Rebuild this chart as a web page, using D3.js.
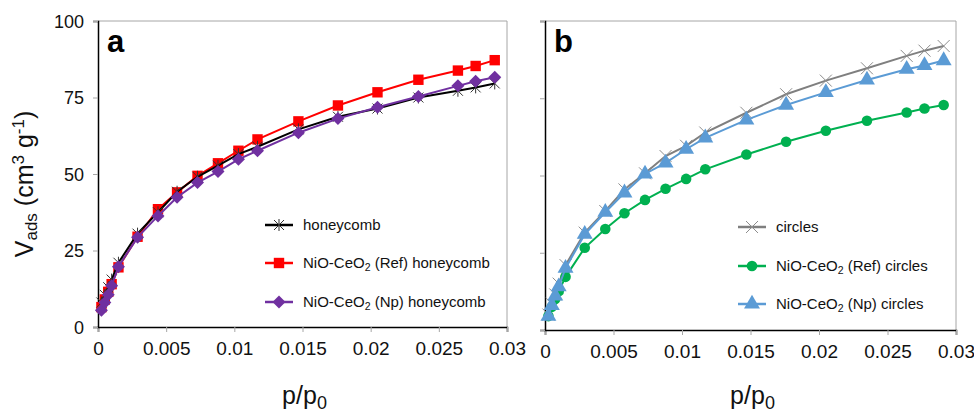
<!DOCTYPE html>
<html>
<head>
<meta charset="utf-8">
<script src="https://cdn.jsdelivr.net/npm/d3@7"></script>
<style>
  html, body { margin: 0; padding: 0; background: #fff; }
  svg { display: block; font-family: "Liberation Sans", Arial, sans-serif; }
</style>
</head>
<body>
<div id="chart"></div>
<script>
// Data
const pRel = [0.00025, 0.0005, 0.00075, 0.001, 0.0015, 0.0029, 0.0044, 0.0058, 0.0073, 0.0088,
  0.0103, 0.0117, 0.0147, 0.0176, 0.0205, 0.0235, 0.0264, 0.0277, 0.0291];

const honeycomb = [8, 10.5, 13, 15.5, 21, 30.5, 37.5, 44.2, 49.1, 52.7, 56.5, 58.9, 64.6, 68.7, 71.4, 75.0, 77.2, 78.3, 79.6];
const refHoneycomb = [6.5, 9, 11.5, 14, 19.5, 29.5, 38.5, 44, 49.4, 53.5, 57.6, 61.3, 67.2, 72.4, 76.7, 80.8, 83.8, 85.3, 87.2];
const npHoneycomb = [5.5, 8, 10.5, 13.5, 19.7, 29.3, 36.3, 42.4, 47.2, 50.8, 54.8, 57.6, 63.5, 68.1, 71.8, 75.3, 78.8, 80.3, 81.6];

const circles = [5, 8.5, 11.5, 15, 21, 31.5, 38.5, 45.5, 50.7, 56.3, 59.6, 63.9, 70.3, 76.3, 80.7, 84.7, 88.7, 90.4, 91.9];
const refCircles = [4.5, 7.5, 10, 12.5, 17.2, 26.6, 32.7, 37.8, 42.1, 45.7, 48.9, 52.0, 56.8, 60.9, 64.5, 67.7, 70.4, 71.7, 72.8];
const npCircles = [4.5, 8, 11, 14, 20, 31, 38.1, 44.4, 50.5, 54.1, 58.5, 62.2, 68.0, 72.8, 76.9, 80.9, 84.4, 85.6, 87.2];

const xTicks = [0, 0.005, 0.01, 0.015, 0.02, 0.025, 0.03];
const xTickLabels = ["0", "0.005", "0.01", "0.015", "0.02", "0.025", "0.03"];
const yTicks = [0, 25, 50, 75, 100];

const W = 974, H = 412;
const svg = d3.select("#chart").append("svg").attr("width", W).attr("height", H);

// marker shapes
const markerPath = {
  asterisk: (r) => `M${-r},${-r}L${r},${r}M${-r},${r}L${r},${-r}M0,${-r * 1.2}L0,${r * 1.2}`,
  cross: (r) => `M${-r},${-r}L${r},${r}M${-r},${r}L${r},${-r}`,
  square: (r) => d3.symbol(d3.symbolSquare, (2 * r) * (2 * r))(),
  diamond: (r) => `M0,${-r}L${r},0L0,${r}L${-r},0Z`,
  circle: (r) => d3.symbol(d3.symbolCircle, Math.PI * r * r)(),
  triangle: (r) => d3.symbol(d3.symbolTriangle, r * r * 2.6)()
};

const panels = [
  {
    letter: "a", x0: 98, x1: 507, y0: 327, y1: 21, yLabels: true,
    legend: { x: 265, ys: [225, 263, 302] },
    series: [
      { name: "NiO-CeO|2| (Ref) honeycomb", values: refHoneycomb, color: "#ff0000", marker: "square", r: 5.2, filled: true, legendRow: 1 },
      { name: "honeycomb", values: honeycomb, color: "#000000", mcolor: "#333333", marker: "asterisk", r: 5, filled: false, legendRow: 0 },
      { name: "NiO-CeO|2| (Np) honeycomb", values: npHoneycomb, color: "#7030a0", marker: "diamond", r: 6.5, filled: true, legendRow: 2 }
    ]
  },
  {
    letter: "b", x0: 545, x1: 956, y0: 330, y1: 21, yLabels: false,
    legend: { x: 738, ys: [227, 266, 304] },
    series: [
      { name: "circles", values: circles, color: "#7f7f7f", mcolor: "#8c8c8c", marker: "cross", r: 6, filled: false, legendRow: 0 },
      { name: "NiO-CeO|2| (Ref) circles", values: refCircles, color: "#00b050", marker: "circle", r: 5.3, filled: true, legendRow: 1 },
      { name: "NiO-CeO|2| (Np) circles", values: npCircles, color: "#5b9bd5", marker: "triangle", r: 6.5, filled: true, legendRow: 2 }
    ]
  }
];

function drawMarker(g, s, x, y) {
  const p = g.append("path")
    .attr("d", markerPath[s.marker](s.r))
    .attr("transform", `translate(${x},${y})`);
  if (s.filled) p.attr("fill", s.color).attr("stroke", "none");
  else p.attr("fill", "none").attr("stroke", s.mcolor || s.color).attr("stroke-width", 1);
}

function addRichText(textSel, str) {
  // segments split by |...| become subscripts
  str.split("|").forEach((part, i) => {
    if (!part) return;
    if (i % 2 === 1) textSel.append("tspan").attr("baseline-shift", "-25%").attr("font-size", "0.7em").text(part);
    else textSel.append("tspan").text(part);
  });
}

panels.forEach((pn) => {
  const x = d3.scaleLinear().domain([0, 0.03]).range([pn.x0, pn.x1]);
  const y = d3.scaleLinear().domain([0, 100]).range([pn.y0, pn.y1]);
  const g = svg.append("g");

  // frame: grey top/right, black left/bottom
  g.append("path")
    .attr("d", `M${pn.x0},${pn.y1}H${pn.x1}V${pn.y0}`)
    .attr("fill", "none").attr("stroke", "#a6a6a6").attr("stroke-width", 1);

  // x axis
  const xAxis = g.append("g")
    .attr("transform", `translate(0,${pn.y0})`)
    .call(d3.axisBottom(x).tickValues(xTicks).tickSize(5).tickFormat((d, i) => xTickLabels[i]));
  xAxis.select(".domain").attr("stroke", "#000").attr("stroke-width", 1.5);
  xAxis.selectAll(".tick line").attr("stroke", "#a6a6a6");
  xAxis.selectAll(".tick text")
    .attr("font-family", "'Liberation Sans', Arial, sans-serif")
    .attr("font-size", 19).attr("fill", "#111").attr("dy", null).attr("y", 28);

  // y axis
  const yAxis = g.append("g")
    .attr("transform", `translate(${pn.x0},0)`)
    .call(d3.axisLeft(y).tickValues(yTicks).tickSize(5).tickFormat(pn.yLabels ? d3.format("d") : () => ""));
  yAxis.select(".domain").attr("stroke", "#000").attr("stroke-width", 1.5);
  yAxis.selectAll(".tick line").attr("stroke", "#a6a6a6");
  yAxis.selectAll(".tick text")
    .attr("font-family", "'Liberation Sans', Arial, sans-serif")
    .attr("font-size", 18).attr("fill", "#111").attr("x", -14).attr("dy", "0.35em");

  // series
  const line = d3.line().x((d, i) => x(pRel[i])).y((d) => y(d));
  pn.series.forEach((s) => {
    g.append("path").datum(s.values)
      .attr("d", line)
      .attr("fill", "none").attr("stroke", s.color).attr("stroke-width", 2);
    s.values.forEach((v, i) => drawMarker(g, s, x(pRel[i]), y(v)));
  });

  // panel letter
  g.append("text")
    .attr("x", pn.x0 + 9).attr("y", pn.y1 + 31)
    .attr("font-size", 31).attr("font-weight", "bold").attr("fill", "#000")
    .text(pn.letter);

  // legend
  pn.series.forEach((s) => {
    const ly = pn.legend.ys[s.legendRow];
    g.append("line")
      .attr("x1", pn.legend.x).attr("x2", pn.legend.x + 28)
      .attr("y1", ly).attr("y2", ly)
      .attr("stroke", s.color).attr("stroke-width", 2.5);
    drawMarker(g, s, pn.legend.x + 14, ly);
    const t = g.append("text")
      .attr("x", pn.legend.x + 38).attr("y", ly + 5)
      .attr("font-size", 15).attr("fill", "#111");
    addRichText(t, s.name);
  });

  // x label
  const xl = g.append("text")
    .attr("x", (pn.x0 + pn.x1) / 2 + 2).attr("y", 404)
    .attr("text-anchor", "middle").attr("font-size", 25).attr("fill", "#111");
  xl.append("tspan").text("p/p");
  xl.append("tspan").attr("baseline-shift", "-25%").attr("font-size", "0.72em").text("0");
});

// y label
const yl = svg.append("text")
  .attr("transform", "translate(33,184) rotate(-90)")
  .attr("text-anchor", "middle").attr("font-size", 25).attr("fill", "#111");
yl.append("tspan").text("V");
yl.append("tspan").attr("baseline-shift", "-25%").attr("font-size", "0.68em").text("ads");
yl.append("tspan").text(" (cm");
yl.append("tspan").attr("baseline-shift", "super").attr("font-size", "0.68em").text("3");
yl.append("tspan").text(" g");
yl.append("tspan").attr("baseline-shift", "super").attr("font-size", "0.68em").text("-1");
yl.append("tspan").text(")");
</script>
</body>
</html>
